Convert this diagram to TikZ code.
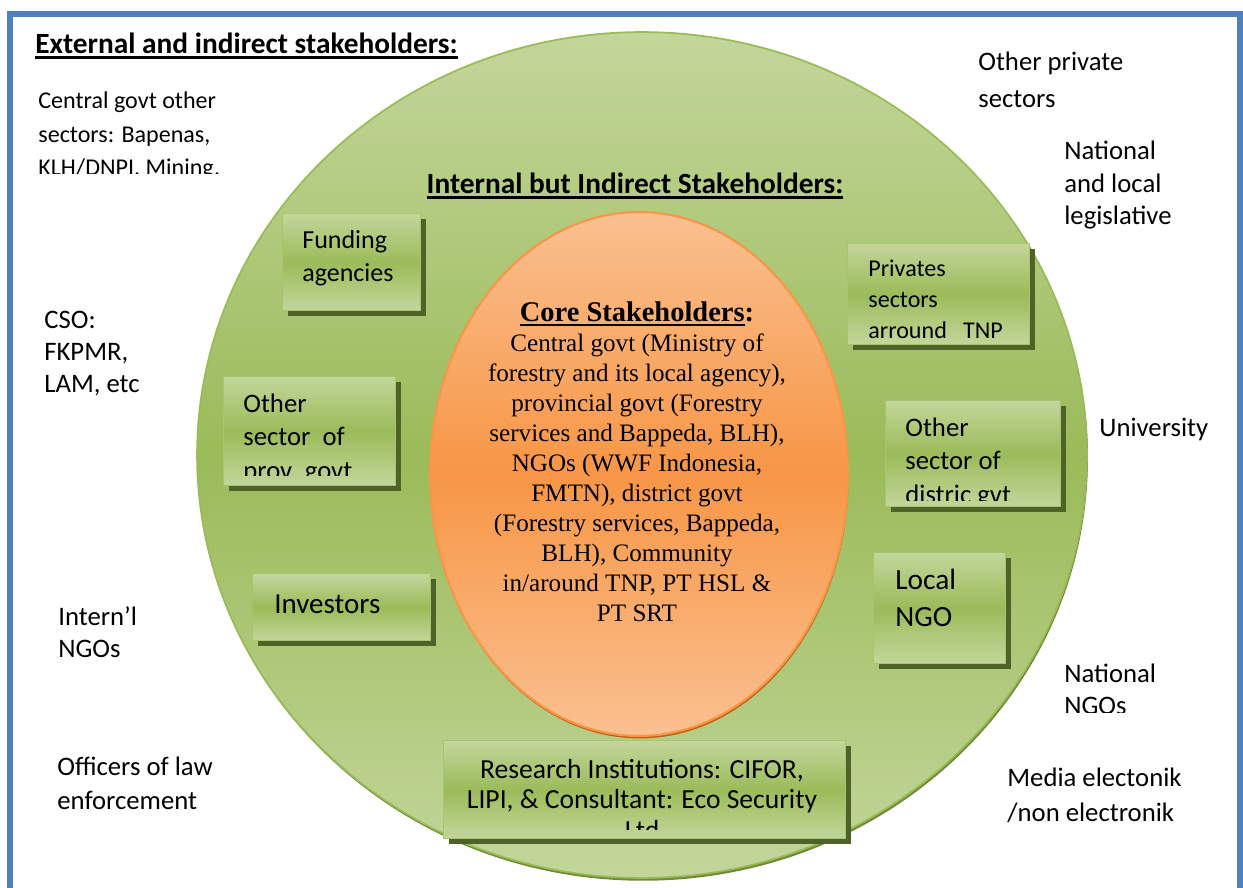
\documentclass[tikz,border=0pt]{standalone}
\usepackage{fontspec}
\setmainfont{Carlito}
\newfontfamily\corefont{Liberation Serif}
\usetikzlibrary{shadows}

\definecolor{frameblue}{HTML}{4F81BD}
\definecolor{ringlight}{HTML}{C3D69B}
\definecolor{ringmid}{HTML}{9BBB59}
\definecolor{ringedge}{HTML}{9BBB59}
\definecolor{ringshade}{HTML}{6F8B36}
\definecolor{corelight}{HTML}{FAC090}
\definecolor{coremid}{HTML}{F79646}
\definecolor{coreedge}{HTML}{F79646}
\definecolor{coreshade}{HTML}{C25E12}
\definecolor{boxedge}{HTML}{A9C46E}
\definecolor{boxshade}{HTML}{4F6228}

\newcommand\extsize{\fontsize{15.2}{18.2}\selectfont}
\newcommand\headsize{\fontsize{16.7}{20}\selectfont\bfseries}
\newcommand\boxsize{\fontsize{15.2}{18.8}\selectfont}
\newcommand\coresize{\fontsize{14.3}{17.07}\selectfont}
% heavy underline for the headings
\newcommand\thickul[2][1.5pt]{\setbox0\hbox{#2}%
  \rlap{\raisebox{-2.8pt}{\rule{\wd0}{#1}}}\box0}

\tikzset{
  exttext/.style={anchor=base west, align=left, inner sep=0pt, font=\extsize},
  boxtext/.style={anchor=base west, align=left, inner sep=0pt, font=\boxsize},
  greenbox/.style 2 args={anchor=north west, inner sep=0pt,
    minimum width=#1*0.02cm, minimum height=#2*0.02cm,
    draw=boxedge, line width=0.8pt,
    top color=ringlight, bottom color=ringlight, middle color=ringmid,
    general shadow={fill=boxshade, shadow xshift=2.8pt, shadow yshift=-2.8pt}},
}

\begin{document}
\begin{tikzpicture}[x=0.02cm, y=-0.02cm]
  \useasboundingbox (0,0) rectangle (1243,888);
  % page frame, its lower edge runs off the page
  \draw[frameblue, line width=3.4pt] (10,14) rectangle (1240,930);

  % outer ring: internal but indirect stakeholders
  \path[draw=ringedge, line width=1pt, top color=ringlight, bottom color=ringlight,
        middle color=ringmid,
        general shadow={fill=ringshade, shadow xshift=0.6pt, shadow yshift=-1.6pt}]
    (642,455) ellipse [x radius=8.9cm, y radius=8.46cm];
  % inner core
  \path[draw=coreedge, line width=1.2pt, top color=corelight, bottom color=corelight,
        middle color=coremid,
        general shadow={fill=coreshade, shadow xshift=0.4pt, shadow yshift=-1.4pt}]
    (639,474) ellipse [x radius=4.18cm, y radius=5.24cm];

  % headings
  \node[anchor=base west, inner sep=0pt, font=\headsize] (exthead) at (35,54)
    {\thickul{External and indirect stakeholders:}};
  \node[anchor=base, inner sep=0pt, font=\headsize] (inthead) at (635,194)
    {\thickul{Internal but Indirect Stakeholders:}};

  % external stakeholders around the ring (base = last line)
  \begin{scope}
    \clip (30,60) rectangle (240,174);
    \node[exttext, font=\fontsize{13.7}{19.3}\selectfont] (centralgovt) at (38,176)
      {Central govt other\\sectors: Bapenas,\\KLH/DNPI, Mining,};
  \end{scope}
  \node[exttext, font=\fontsize{15.2}{21.6}\selectfont] (privsec) at (978,108)
    {Other private\\sectors};
  \node[exttext, font=\fontsize{15.2}{18.5}\selectfont] (legis) at (1064,225)
    {National\\and local\\legislative};
  \node[exttext] (cso) at (44,392) {CSO:\\FKPMR,\\LAM, etc};
  \node[exttext] (univ) at (1099,436) {University};
  \node[exttext] (intngo) at (58,657) {Intern’l\\NGOs};
  \begin{scope}
    \clip (1050,640) rectangle (1200,712);
    \node[exttext] (natngo) at (1064,714) {National\\NGOs};
  \end{scope}
  \node[exttext, font=\fontsize{15.2}{19.3}\selectfont] (lawoff) at (57,809)
    {Officers of law\\enforcement};
  \node[exttext, font=\fontsize{15.2}{19.9}\selectfont] (media) at (1007,821)
    {Media electonik\\/non electronik};

  % boxes on the ring
  \node[greenbox={138}{97}] (funding) at (282,213) {};
  \node[boxtext, font=\fontsize{14.8}{18.8}\selectfont] (fundingtxt) at (302,282)
    {Funding\\agencies};

  \node[greenbox={182}{101}] (privates) at (847,243) {};
  \node[boxtext, font=\fontsize{13.7}{17.4}\selectfont] (privatestxt) at (868,338)
    {Privates\\sectors\\arround\ \ \ TNP};

  \node[greenbox={172}{109}] (provgovt) at (223,376) {};
  \begin{scope}
    \clip (223,376) rectangle (395,475);
    \node[boxtext] (provgovttxt) at (243,479) {Other\\sector\ \ of\\prov. govt};
  \end{scope}

  \node[greenbox={175}{106}] (distgovt) at (885,400) {};
  \begin{scope}
    \clip (885,400) rectangle (1060,500);
    \node[boxtext] (distgovttxt) at (905,503) {Other\\sector of\\distric gvt};
  \end{scope}

  \node[greenbox={178}{67}] (investors) at (252,573) {};
  \node[boxtext, font=\fontsize{16.5}{18.8}\selectfont] (investorstxt) at (274,613)
    {Investors};

  \node[greenbox={132}{111}] (localngo) at (873,552) {};
  \node[boxtext, font=\fontsize{16.7}{20.5}\selectfont] (localngotxt) at (895,626)
    {Local\\NGO};

  \node[greenbox={402}{98}] (research) at (443,740) {};
  \begin{scope}
    \clip (443,740) rectangle (845,829);
    \node[anchor=base, align=center, inner sep=0pt, font=\fontsize{15.7}{17.1}\selectfont]
      (researchtxt) at (642,839)
      {Research Institutions: CIFOR,\\LIPI, \& Consultant: Eco Security\\Ltd};
  \end{scope}

  % core stakeholders text
  \node[anchor=base, align=center, inner sep=0pt, font=\corefont\coresize] (coretxt)
    at (637,621) {{\fontsize{16.2}{17.07}\selectfont\bfseries
      \thickul[0.9pt]{Core Stakeholders}:}\\
    Central govt (Ministry of\\forestry and its local agency),\\
    provincial govt (Forestry\\services and Bappeda, BLH),\\
    NGOs (WWF Indonesia,\\FMTN), district govt\\
    (Forestry services, Bappeda,\\BLH), Community\\
    in/around TNP, PT HSL \&\\PT SRT};
\end{tikzpicture}
\end{document}
